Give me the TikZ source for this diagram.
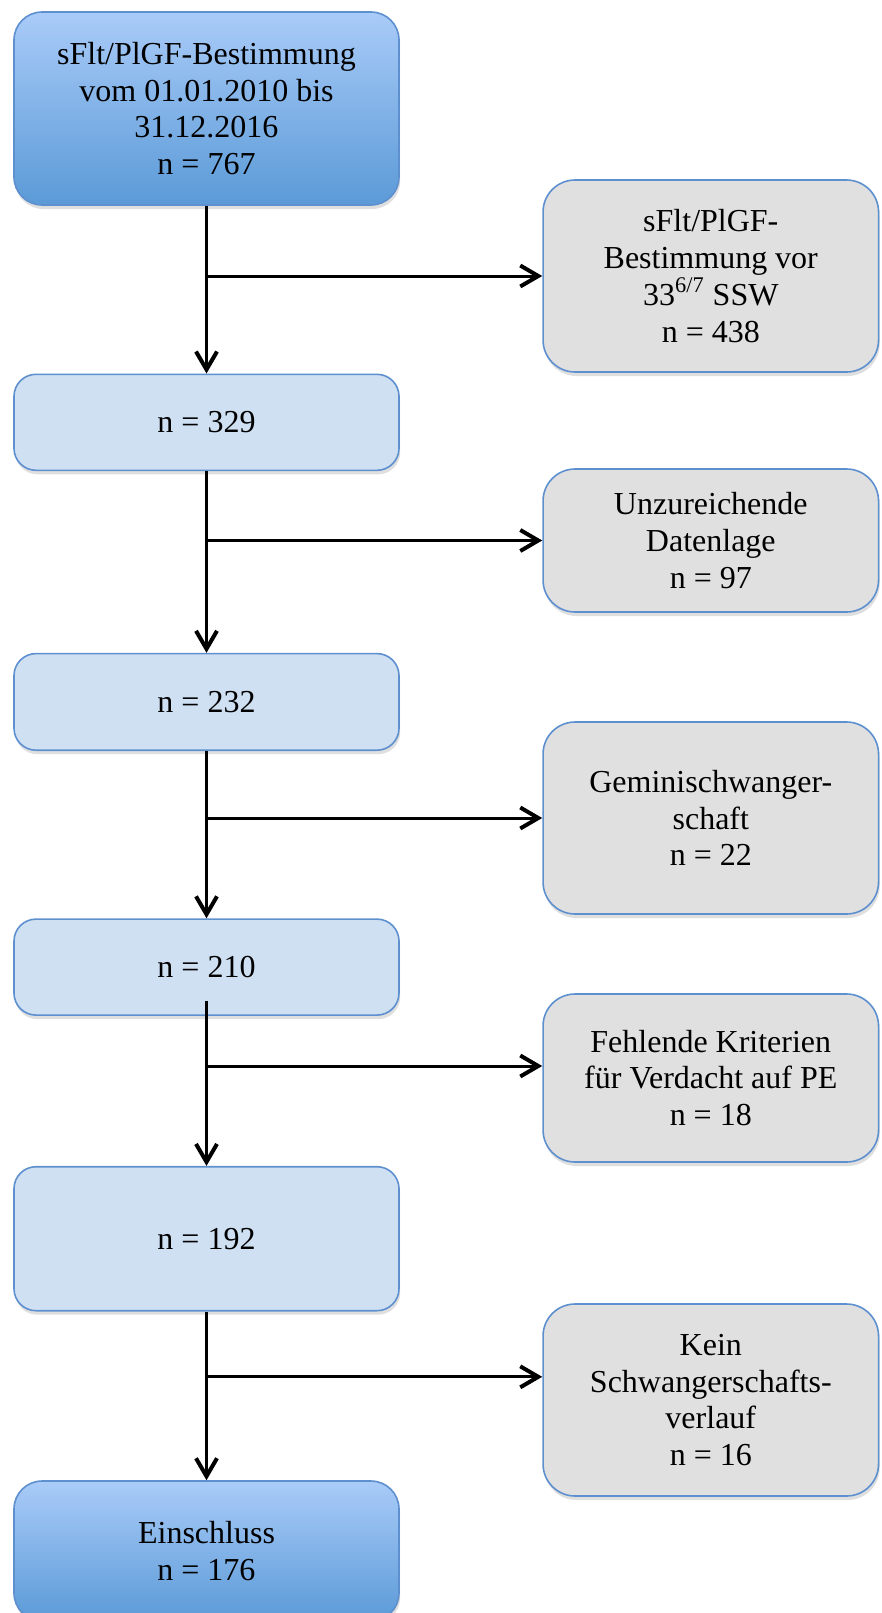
\documentclass[tikz,border=0pt]{standalone}
\usepackage{fontspec}
\setmainfont{Liberation Serif}
\usetikzlibrary{arrows.meta,positioning,shadows}

\definecolor{bluetop}{HTML}{A9CBF8}
\definecolor{bluebot}{HTML}{5B9AD7}
\definecolor{bluelight}{HTML}{CFE0F3}
\definecolor{greybox}{HTML}{E0E0E0}
\definecolor{boxline}{HTML}{5E90CF}

\begin{document}
\begin{tikzpicture}[
    base/.style={draw=boxline, line width=0.8pt, align=center, inner sep=2pt,
      font=\fontsize{16}{18.4}\selectfont,
      drop shadow={shadow xshift=0.6pt, shadow yshift=-2pt, opacity=0.25}},
    endbox/.style={base, rounded corners=14pt, top color=bluetop, bottom color=bluebot, minimum width=192.5pt},
    stepbox/.style={base, rounded corners=11pt, fill=bluelight, minimum width=192.5pt},
    outbox/.style={base, rounded corners=16pt, fill=greybox, minimum width=167.75pt},
    arr/.style={-{Straight Barb[length=9pt,width=10.5pt,line width=2pt]}, line width=1.5pt}
  ]
    \useasboundingbox (0,0) rectangle (441pt,-806.5pt);

    % main column
    \node[endbox, minimum height=96.5pt] (start) at (103.25pt,-54.25pt)
      {sFlt/PlGF-Bestimmung\\vom 01.01.2010 bis\\31.12.2016\\n = 767};
    \node[stepbox, minimum height=48pt, below=83.85pt of start] (n329) {n = 329};
    \node[stepbox, minimum height=48.3pt, below=90.85pt of n329] (n232) {n = 232};
    \node[stepbox, minimum height=48pt, below=83.65pt of n232] (n210) {n = 210};
    \node[stepbox, minimum height=72pt, below=75pt of n210] (n192) {n = 192};
    \node[endbox, minimum height=70pt, below=84.35pt of n192] (incl) {Einschluss\\n = 176};

    % excluded
    \node[outbox, minimum height=96pt] (ex1) at (355.4pt,-138pt)
      {sFlt/PlGF-\\Bestimmung vor\\33\textsuperscript{6/7} SSW\\n = 438};
    \node[outbox, minimum height=71.5pt] (ex2) at (355.4pt,-270.25pt)
      {Unzureichende\\Datenlage\\n = 97};
    \node[outbox, minimum height=96pt] (ex3) at (355.4pt,-409pt)
      {Geminischwanger-\\schaft\\n = 22};
    \node[outbox, minimum height=84pt] (ex4) at (355.4pt,-539pt)
      {Fehlende Kriterien\\für Verdacht auf PE\\n = 18};
    \node[outbox, minimum height=96pt] (ex5) at (355.4pt,-700pt)
      {Kein\\Schwangerschafts-\\verlauf\\n = 16};

    \coordinate (a4) at ([yshift=6pt]ex4.west);
    \coordinate (a5) at ([yshift=11.6pt]ex5.west);

    \draw[arr] (start) -- (n329);
    \draw[arr] (n329) -- (n232);
    \draw[arr] (n232) -- (n210);
    \draw[arr] ([yshift=7.5pt]n210.south) -- (n192);
    \draw[arr] (n192) -- (incl);

    \draw[arr] (start.south |- ex1.west) -- (ex1.west);
    \draw[arr] (n329.south |- ex2.west) -- (ex2.west);
    \draw[arr] (n232.south |- ex3.west) -- (ex3.west);
    \draw[arr] (n210.south |- a4) -- (a4);
    \draw[arr] (n192.south |- a5) -- (a5);
  \end{tikzpicture}
\end{document}
